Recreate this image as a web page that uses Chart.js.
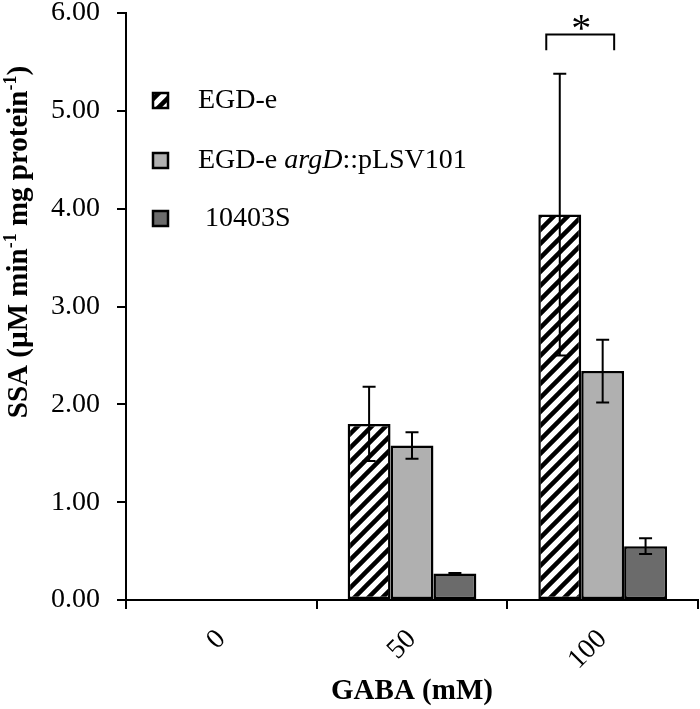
<!DOCTYPE html>
<html>
<head>
<meta charset="utf-8">
<script src="https://cdn.jsdelivr.net/npm/chart.js@4.4.0/dist/chart.umd.min.js"></script>
<style>
  html, body { margin: 0; padding: 0; background: #fff; }
  #wrap { width: 700px; height: 709px; }
</style>
</head>
<body>
<div id="wrap"><canvas id="ssaChart" width="700" height="709"></canvas></div>
<script>
// GABA concentrations (mM)
const categories = ['0', '50', '100'];

const seriesNames = ['EGD-e', 'EGD-e argD::pLSV101', '10403S'];

// SSA activity and error bars
const egdeValues = [0, 1.80, 3.94];
const egdeErrors = [0, 0.38, 1.44];
const argDValues = [0, 1.58, 2.34];
const argDErrors = [0, 0.135, 0.32];
const strain10403Values = [0, 0.27, 0.55];
const strain10403Errors = [0, 0.005, 0.08];

const yTicks = [0, 1, 2, 3, 4, 5, 6];

const FONT = '"Liberation Serif", "Times New Roman", serif';


function makeHatch() {
    const size = 14;
    const c = document.createElement('canvas');
    c.width = size;
    c.height = size;
    const g = c.getContext('2d');
    g.fillStyle = '#fff';
    g.fillRect(0, 0, size, size);
    g.strokeStyle = '#000';
    g.lineWidth = 4.5;
    g.beginPath();
    g.moveTo(-1, size + 1);
    g.lineTo(size + 1, -1);
    g.moveTo(-size / 2 - 1, size / 2 + 1);
    g.lineTo(size / 2 + 1, -size / 2 - 1);
    g.moveTo(size / 2 - 1, size + size / 2 + 1);
    g.lineTo(size + size / 2 + 1, size / 2 - 1);
    g.stroke();
    return g.createPattern(c, 'repeat');
}

const ctx = document.getElementById('ssaChart').getContext('2d');
const hatch = makeHatch();

const errorSets = [egdeErrors, argDErrors, strain10403Errors];


// error bars, significance bracket, legend and y title
const extrasPlugin = {
    id: 'extras',
    afterDatasetsDraw(chart) {
        const c = chart.ctx;
        const y = chart.scales.y;
        c.save();
        c.strokeStyle = '#000';
        c.lineWidth = 2;
        chart.data.datasets.forEach((ds, i) => {
            const meta = chart.getDatasetMeta(i);
            meta.data.forEach((bar, j) => {
                const v = ds.data[j];
                const e = errorSets[i][j];
                if (!v) return;
                const top = y.getPixelForValue(v + e);
                const bot = y.getPixelForValue(v - e);
                c.beginPath();
                c.moveTo(bar.x, top);
                c.lineTo(bar.x, bot);
                c.moveTo(bar.x - 6.5, top);
                c.lineTo(bar.x + 6.5, top);
                c.moveTo(bar.x - 6.5, bot);
                c.lineTo(bar.x + 6.5, bot);
                c.stroke();
            });
        });

        // significance bracket over the 100 mM group
        const b1 = chart.getDatasetMeta(0).data[2];
        const b2 = chart.getDatasetMeta(1).data[2];
        const left = b1.x - 13.5;
        const right = b2.x + 11.5;
        const by = y.getPixelForValue(5.78);
        const legY = y.getPixelForValue(5.62);
        c.beginPath();
        c.moveTo(left, legY);
        c.lineTo(left, by);
        c.lineTo(right, by);
        c.lineTo(right, legY);
        c.stroke();
        c.fillStyle = '#000';
        c.font = '40px ' + FONT;
        c.textAlign = 'center';
        c.textBaseline = 'middle';
        c.fillText('*', (left + right) / 2 + 1, y.getPixelForValue(5.82));

        // legend
        const rows = [100, 160, 218];
        const swatch = [hatch, '#b0b0b0', '#6b6b6b'];
        c.textAlign = 'left';
        c.textBaseline = 'middle';
        rows.forEach((ry, i) => {
            c.fillStyle = swatch[i];
            c.fillRect(153, ry - 7, 15, 15);
            c.lineWidth = 2.5;
            c.strokeRect(153, ry - 7, 15, 15);
            c.fillStyle = '#000';
            let x = 198;
            if (i === 1) {
                c.font = '28px ' + FONT;
                c.fillText('EGD-e ', x, ry + 1);
                x += c.measureText('EGD-e ').width;
                c.font = 'italic 28px ' + FONT;
                c.fillText('argD', x, ry + 1);
                x += c.measureText('argD').width;
                c.font = '28px ' + FONT;
                c.fillText('::pLSV101', x, ry + 1);
            } else {
                c.font = '28px ' + FONT;
                c.fillText(i === 2 ? ' ' + seriesNames[i] : seriesNames[i], x, ry + 1);
            }
        });

        // y axis title with superscripts
        const parts = [
            ['SSA (\u00b5M min', false], ['-1', true], [' mg protein', false], ['-1', true], [')', false]
        ];
        const big = 'bold 29px ' + FONT;
        const small = 'bold 18px ' + FONT;
        let total = 0;
        parts.forEach(p => {
            c.font = p[1] ? small : big;
            total += c.measureText(p[0]).width;
        });
        c.translate(17, 242);
        c.rotate(-Math.PI / 2);
        c.textBaseline = 'alphabetic';
        let px = -total / 2;
        parts.forEach(p => {
            c.font = p[1] ? small : big;
            c.fillText(p[0], px, p[1] ? -1 : 10);
            px += c.measureText(p[0]).width;
        });
        c.restore();
    }
};


const ssaChart = new Chart(ctx, {
    type: 'bar',
    data: {
        labels: categories,
        datasets: [
            {
                label: seriesNames[0],
                data: egdeValues,
                backgroundColor: hatch,
                borderColor: '#000',
                borderWidth: 2.5,
                borderSkipped: false
            },
            {
                label: seriesNames[1],
                data: argDValues,
                backgroundColor: '#b0b0b0',
                borderColor: '#000',
                borderWidth: 2.5,
                borderSkipped: false
            },
            {
                label: seriesNames[2],
                data: strain10403Values,
                backgroundColor: '#6b6b6b',
                borderColor: '#000',
                borderWidth: 2.5,
                borderSkipped: false
            }
        ]
    },
    options: {
        responsive: false,
        animation: false,
        categoryPercentage: 0.675,
        barPercentage: 1,
        layout: { padding: { top: 13, right: 2, left: 0, bottom: 0 } },
        plugins: {
            legend: { display: false },
            tooltip: { enabled: false }
        },
        scales: {
            x: {
                afterFit(scale) {
                    scale.height = 109;
                    scale.paddingLeft = 0;
                    scale.paddingRight = 0;
                },
                border: { display: true, color: '#000', width: 2 },
                grid: {
                    offset: true,
                    drawOnChartArea: false,
                    drawTicks: true,
                    tickLength: 9,
                    color: '#000',
                    lineWidth: 2
                },
                ticks: {
                    color: '#000',
                    font: { family: FONT, size: 28 },
                    minRotation: 45,
                    maxRotation: 45,
                    padding: 14
                },
                title: {
                    display: true,
                    text: 'GABA (mM)',
                    color: '#000',
                    font: { family: FONT, size: 29, weight: 'bold' },
                    padding: { top: 4, bottom: 0 }
                }
            },
            y: {
                min: 0,
                max: 6,
                afterFit(scale) {
                    scale.width = 126;
                    scale.paddingTop = 0;
                    scale.paddingBottom = 0;
                },
                afterBuildTicks(scale) {
                    scale.ticks = yTicks.map(v => ({ value: v }));
                },
                border: { display: true, color: '#000', width: 2 },
                grid: {
                    drawOnChartArea: false,
                    drawTicks: true,
                    tickLength: 9,
                    color: '#000',
                    lineWidth: 2
                },
                ticks: {
                    color: '#000',
                    font: { family: FONT, size: 28 },
                    padding: 17,
                    callback: v => v.toFixed(2)
                }
            }
        }
    },
    plugins: [extrasPlugin]
});
</script>
</body>
</html>
